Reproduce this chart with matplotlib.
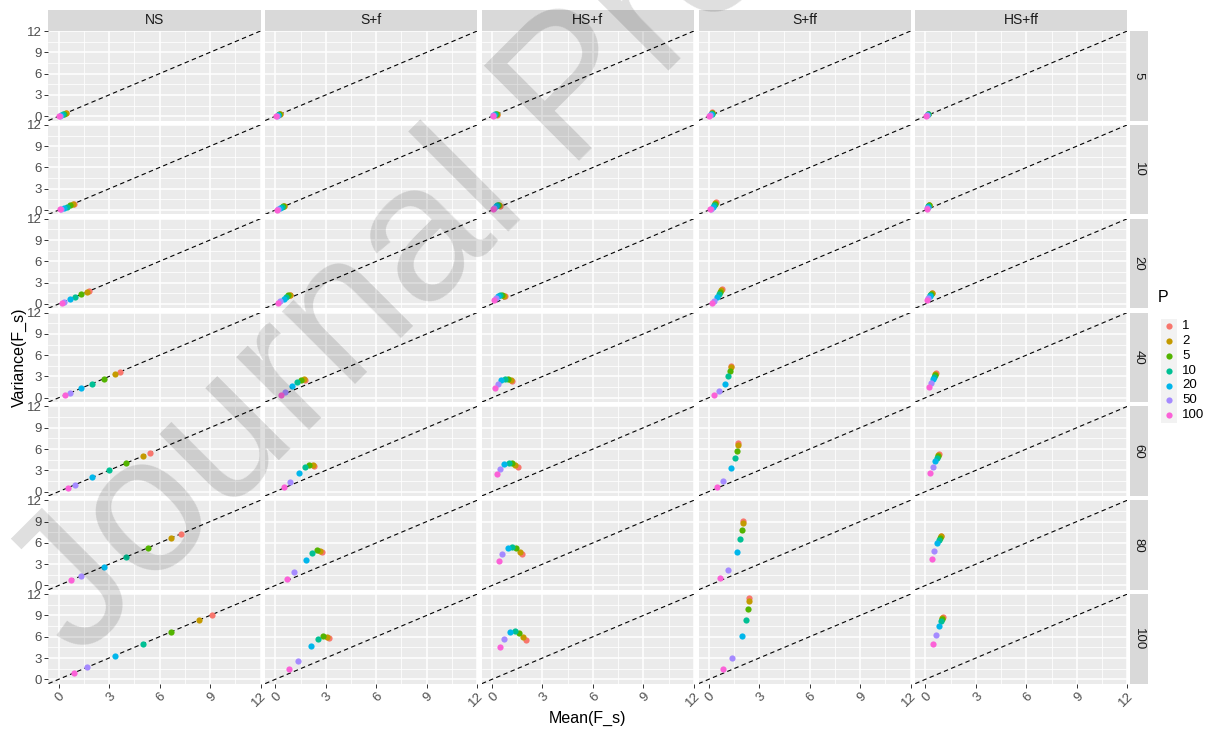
import matplotlib
matplotlib.use('Agg')
import matplotlib.pyplot as plt
from matplotlib.patches import Rectangle

plt.rcParams['font.family'] = ['Liberation Sans', 'DejaVu Sans']

# ---------------- data ----------------
methods = ['NS', 'S+f', 'HS+f', 'S+ff', 'HS+ff']
N_levels = ['5', '10', '20', '40', '60', '80', '100']
P_levels = ['1', '2', '5', '10', '20', '50', '100']
P_colors = ['#F8766D', '#C49A00', '#53B400', '#00C094', '#00B6EB', '#A58AFF', '#FB61D7']

# each row: one N level; values in P order 1, 2, 5, 10, 20, 50, 100
mean_NS = [
    [0.45, 0.42, 0.33, 0.25, 0.17, 0.08, 0.05],
    [0.91, 0.83, 0.67, 0.50, 0.33, 0.17, 0.09],
    [1.82, 1.67, 1.33, 1.00, 0.67, 0.33, 0.18],
    [3.64, 3.33, 2.67, 2.00, 1.33, 0.67, 0.36],
    [5.45, 5.00, 4.00, 3.00, 2.00, 1.00, 0.55],
    [7.27, 6.67, 5.33, 4.00, 2.67, 1.33, 0.73],
    [9.09, 8.33, 6.67, 5.00, 3.33, 1.67, 0.91],
]
var_NS = [
    [0.45, 0.42, 0.33, 0.25, 0.17, 0.08, 0.05],
    [0.91, 0.83, 0.67, 0.50, 0.33, 0.17, 0.09],
    [1.82, 1.67, 1.33, 1.00, 0.67, 0.33, 0.18],
    [3.64, 3.33, 2.67, 2.00, 1.33, 0.67, 0.36],
    [5.45, 5.00, 4.00, 3.00, 2.00, 1.00, 0.55],
    [7.27, 6.67, 5.33, 4.00, 2.67, 1.33, 0.73],
    [9.09, 8.33, 6.67, 5.00, 3.33, 1.67, 0.91],
]
mean_Sf = [
    [0.28, 0.26, 0.23, 0.19, 0.14, 0.08, 0.04],
    [0.53, 0.50, 0.45, 0.37, 0.27, 0.15, 0.08],
    [0.89, 0.85, 0.77, 0.66, 0.50, 0.30, 0.17],
    [1.77, 1.69, 1.53, 1.31, 1.01, 0.60, 0.34],
    [2.32, 2.22, 2.02, 1.77, 1.43, 0.87, 0.50],
    [2.78, 2.68, 2.46, 2.18, 1.80, 1.13, 0.67],
    [3.19, 3.10, 2.84, 2.56, 2.12, 1.37, 0.81],
]
var_Sf = [
    [0.30, 0.29, 0.26, 0.21, 0.15, 0.08, 0.04],
    [0.62, 0.60, 0.55, 0.45, 0.32, 0.16, 0.08],
    [1.28, 1.28, 1.20, 1.00, 0.70, 0.35, 0.18],
    [2.52, 2.60, 2.52, 2.24, 1.64, 0.84, 0.37],
    [3.64, 3.78, 3.78, 3.40, 2.66, 1.40, 0.70],
    [4.67, 4.90, 4.95, 4.53, 3.60, 1.96, 0.93],
    [5.75, 5.90, 6.10, 5.70, 4.67, 2.60, 1.40],
]
mean_HSf = [
    [0.30, 0.27, 0.22, 0.18, 0.13, 0.08, 0.04],
    [0.50, 0.44, 0.37, 0.30, 0.22, 0.14, 0.08],
    [0.77, 0.70, 0.60, 0.50, 0.38, 0.24, 0.14],
    [1.19, 1.11, 0.93, 0.79, 0.56, 0.36, 0.20],
    [1.53, 1.39, 1.17, 0.99, 0.74, 0.48, 0.32],
    [1.81, 1.65, 1.41, 1.17, 0.93, 0.62, 0.42],
    [2.05, 1.87, 1.61, 1.35, 1.07, 0.74, 0.50],
]
var_HSf = [
    [0.24, 0.26, 0.27, 0.26, 0.22, 0.15, 0.08],
    [0.60, 0.67, 0.70, 0.68, 0.55, 0.35, 0.15],
    [1.12, 1.17, 1.22, 1.22, 1.15, 0.90, 0.60],
    [2.38, 2.48, 2.62, 2.66, 2.48, 1.92, 1.40],
    [3.46, 3.69, 3.97, 4.00, 3.88, 3.18, 2.43],
    [4.49, 4.77, 5.23, 5.37, 5.23, 4.40, 3.46],
    [5.56, 5.98, 6.54, 6.78, 6.60, 5.70, 4.58],
]
mean_Sff = [
    [0.21, 0.20, 0.19, 0.17, 0.13, 0.08, 0.04],
    [0.42, 0.40, 0.37, 0.32, 0.25, 0.15, 0.08],
    [0.78, 0.76, 0.70, 0.62, 0.50, 0.30, 0.17],
    [1.32, 1.30, 1.26, 1.16, 0.97, 0.59, 0.34],
    [1.72, 1.72, 1.66, 1.56, 1.34, 0.85, 0.51],
    [2.05, 2.05, 1.99, 1.89, 1.68, 1.12, 0.67],
    [2.37, 2.37, 2.31, 2.19, 1.95, 1.36, 0.83],
]
var_Sff = [
    [0.53, 0.50, 0.45, 0.36, 0.25, 0.12, 0.05],
    [1.08, 1.02, 0.90, 0.72, 0.50, 0.22, 0.10],
    [2.10, 2.00, 1.75, 1.40, 0.95, 0.45, 0.18],
    [4.53, 4.35, 3.74, 3.00, 2.00, 0.89, 0.37],
    [6.87, 6.59, 5.75, 4.72, 3.32, 1.54, 0.70],
    [9.10, 8.74, 7.80, 6.50, 4.67, 2.24, 1.03],
    [11.40, 11.00, 9.90, 8.36, 6.12, 3.04, 1.45],
]
mean_HSff = [
    [0.18, 0.17, 0.15, 0.13, 0.10, 0.07, 0.04],
    [0.23, 0.22, 0.20, 0.17, 0.14, 0.10, 0.07],
    [0.39, 0.37, 0.34, 0.30, 0.25, 0.18, 0.12],
    [0.61, 0.59, 0.55, 0.49, 0.43, 0.32, 0.22],
    [0.79, 0.77, 0.73, 0.67, 0.57, 0.43, 0.30],
    [0.93, 0.91, 0.87, 0.81, 0.71, 0.51, 0.37],
    [1.03, 1.01, 0.97, 0.91, 0.81, 0.61, 0.45],
]
var_HSff = [
    [0.33, 0.32, 0.30, 0.27, 0.22, 0.15, 0.08],
    [0.78, 0.75, 0.68, 0.58, 0.45, 0.30, 0.15],
    [1.60, 1.55, 1.45, 1.30, 1.10, 0.80, 0.50],
    [3.50, 3.41, 3.22, 2.99, 2.71, 2.10, 1.54],
    [5.23, 5.19, 5.00, 4.72, 4.30, 3.50, 2.62],
    [7.00, 6.92, 6.73, 6.45, 5.93, 4.86, 3.74],
    [8.74, 8.64, 8.46, 8.18, 7.57, 6.30, 4.95],
]

tick_vals = [0, 3, 6, 9, 12]
minor_vals = [1.5, 4.5, 7.5, 10.5]

means = {'NS': mean_NS, 'S+f': mean_Sf, 'HS+f': mean_HSf, 'S+ff': mean_Sff, 'HS+ff': mean_HSff}
variances = {'NS': var_NS, 'S+f': var_Sf, 'HS+f': var_HSf, 'S+ff': var_Sff, 'HS+ff': var_HSff}

# ---------------- layout ----------------
W, H = 1214, 729
fig = plt.figure(figsize=(W / 100, H / 100), dpi=100)
fig.patch.set_facecolor('white')


def fx(px):
    return px / W


def fy(py):
    return 1 - py / H


col_x0, col_step, col_w = 48.5, 216.7, 212.0
row_y0, row_step, row_h = 31.0, 93.85, 89.5
strip_top, strip_bot = 10.0, 30.5
rstrip_l, rstrip_r = 1129.5, 1148.0

for i, m in enumerate(methods):
    left = col_x0 + i * col_step
    # top strip
    sax = fig.add_axes([fx(left), fy(strip_bot), col_w / W, (strip_bot - strip_top) / H])
    sax.set_facecolor('#D9D9D9')
    sax.set_xticks([]); sax.set_yticks([])
    for s in sax.spines.values():
        s.set_visible(False)
    sax.text(0.5, 0.5, m, ha='center', va='center', fontsize=10, color='#1A1A1A',
             transform=sax.transAxes)
    for j, n in enumerate(N_levels):
        top = row_y0 + j * row_step
        ax = fig.add_axes([fx(left), fy(top + row_h), col_w / W, row_h / H])
        ax.set_facecolor('#EBEBEB')
        ax.set_xlim(-0.6, 12)
        ax.set_ylim(-0.6, 12)
        ax.set_xticks(tick_vals)
        ax.set_yticks(tick_vals)
        ax.set_xticks(minor_vals, minor=True)
        ax.set_yticks(minor_vals, minor=True)
        ax.grid(which='major', color='white', linewidth=1.1)
        ax.grid(which='minor', color='white', linewidth=0.55)
        ax.set_axisbelow(True)
        for s in ax.spines.values():
            s.set_visible(False)
        ax.tick_params(which='minor', length=0)
        ax.tick_params(which='major', length=3.2, width=0.7, color='#333333',
                       labelsize=9.5, labelcolor='#4D4D4D', pad=1.5)
        if i > 0:
            ax.tick_params(axis='y', left=False, labelleft=False)
        if j < len(N_levels) - 1:
            ax.tick_params(axis='x', bottom=False, labelbottom=False)
        else:
            for lab in ax.get_xticklabels():
                lab.set_rotation(45)
                lab.set_ha('right')
                lab.set_va('top')
                lab.set_rotation_mode('anchor')
        ax.axline((0, 0), slope=1, color='black', linewidth=0.8, linestyle=(0, (4, 3)), zorder=2)
        mv = means[m][j]
        vv = variances[m][j]
        for k, p in enumerate(P_levels):
            ax.scatter([mv[k]], [vv[k]], s=20, color=P_colors[k], linewidths=0, zorder=3)
        # right strip
        if i == len(methods) - 1:
            rax = fig.add_axes([fx(rstrip_l), fy(top + row_h), (rstrip_r - rstrip_l) / W, row_h / H])
            rax.set_facecolor('#D9D9D9')
            rax.set_xticks([]); rax.set_yticks([])
            for s in rax.spines.values():
                s.set_visible(False)
            rax.text(0.5, 0.5, n, ha='center', va='center', rotation=-90, fontsize=9.5,
                     color='#1A1A1A', transform=rax.transAxes)

# axis titles
fig.text(fx(587.5), fy(718), 'Mean(F_s)', ha='center', va='center', fontsize=11.5, color='black')
fig.text(fx(19), fy(357.5), 'Variance(F_s)', ha='center', va='center', rotation=90,
         fontsize=11.5, color='black')

# legend (manual, ggplot-like)
lax = fig.add_axes([fx(1150), fy(430), (1214 - 1150) / W, (430 - 285) / H])
lax.set_xlim(1150, 1214)
lax.set_ylim(430, 285)
lax.axis('off')
lax.text(1158, 298, 'P', ha='left', va='center', fontsize=11.5, color='black')
lax.add_patch(Rectangle((1160.5, 318.5), 16, 104, facecolor='#F2F2F2', edgecolor='none'))
for k, p in enumerate(P_levels):
    yk = 325.7 + k * 14.95
    lax.scatter([1168.5], [yk], s=20, color=P_colors[k], linewidths=0)
    lax.text(1182, yk, p, ha='left', va='center', fontsize=9.5, color='black')

# watermark
fig.text(fx(79), fy(661), 'Journal Pre-proof', rotation=45, rotation_mode='anchor',
         ha='left', va='baseline', fontsize=140, color='black', alpha=0.13, zorder=10)

fig.savefig('out.png', dpi=100)
